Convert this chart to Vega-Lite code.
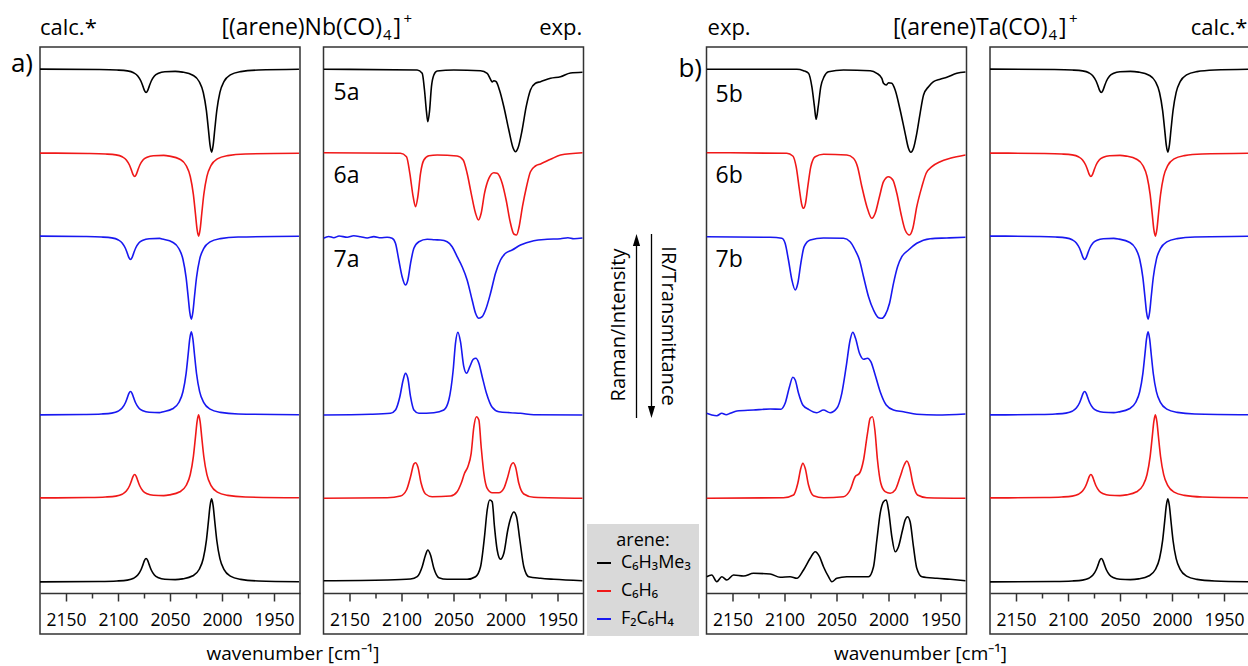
{
"$schema":"https://vega.github.io/schema/vega-lite/v6.json",
"autosize":{"type":"pad"},
"padding":{"left":10,"top":11,"right":0,"bottom":0},
"background":"white",
"spacing":23.5,
"bounds":"flush",
"config":{"view":{"stroke":"#333","strokeWidth":1.5},"font":"Open Sans"},
"resolve":{"scale":{"x":"independent","y":"independent","color":"shared"},"axis":{"x":"independent","y":"independent"}},
"datasets":{
"an":[
{"p":1,"k":"L","x":2175,"y":558.5,"txt":"calc.*"},
{"p":1,"k":"T","x":1846.2,"y":558.5,"txt":"[(arene)Nb(CO)"},
{"p":1,"k":"S","x":1845.2,"y":553,"txt":"4"},
{"p":1,"k":"Q","x":1835.1,"y":558.5,"txt":"]"},
{"p":1,"k":"U","x":1825.5,"y":569,"txt":"+"},
{"p":1,"k":"A","x":2203,"y":521,"txt":"a)"},
{"p":1,"k":"W","x":1931.7,"y":-67,"txt":"wavenumber [cm⁻¹]"},
{"p":2,"k":"R","x":1926.2,"y":558.5,"txt":"exp."},
{"p":2,"k":"N","x":2165.4,"y":493,"txt":"5a"},
{"p":2,"k":"N","x":2165.4,"y":410,"txt":"6a"},
{"p":2,"k":"N","x":2165.4,"y":326,"txt":"7a"},
{"p":3,"k":"L","x":2174,"y":558.5,"txt":"exp."},
{"p":3,"k":"A","x":2202,"y":516,"txt":"b)"},
{"p":3,"k":"W","x":1969.2,"y":-67,"txt":"wavenumber [cm⁻¹]"},
{"p":3,"k":"N","x":2166.3,"y":491.3,"txt":"5b"},
{"p":3,"k":"N","x":2166.3,"y":409.7,"txt":"6b"},
{"p":3,"k":"N","x":2166.3,"y":326.3,"txt":"7b"},
{"p":4,"k":"T","x":2119.7,"y":558.5,"txt":"[(arene)Ta(CO)"},
{"p":4,"k":"S","x":2118.75,"y":553,"txt":"4"},
{"p":4,"k":"Q","x":2108.65,"y":558.5,"txt":"]"},
{"p":4,"k":"U","x":2099,"y":569,"txt":"+"},
{"p":4,"k":"R","x":1927.4,"y":558.5,"txt":"calc.*"}
],
"md":[
{"k":"ar","x":29.5,"y":175,"y2":353},
{"k":"ar","x":44.5,"y":181,"y2":359},
{"k":"hu","x":29.5,"y":353},
{"k":"hd","x":44.5,"y":181},
{"k":"tr","x":11.5,"y":268,"txt":"Raman/Intensity"},
{"k":"ti","x":60.5,"y":267,"txt":"IR/Transmittance"}
],
"sp":[
{"p":1,"a":"K","t":"IR","x":2175,"y":523.9},{"p":1,"a":"K","t":"IR","x":2118,"y":523.5},{"p":1,"a":"K","t":"IR","x":2101,"y":523},{"p":1,"a":"K","t":"IR","x":2091,"y":522.1},{"p":1,"a":"K","t":"IR","x":2085,"y":520.2},{"p":1,"a":"K","t":"IR","x":2081,"y":517.1},{"p":1,"a":"K","t":"IR","x":2078,"y":512},{"p":1,"a":"K","t":"IR","x":2076,"y":506.6},{"p":1,"a":"K","t":"IR","x":2074.5,"y":502.4},{"p":1,"a":"K","t":"IR","x":2073,"y":500.5},{"p":1,"a":"K","t":"IR","x":2071.5,"y":502.3},{"p":1,"a":"K","t":"IR","x":2070,"y":506.6},{"p":1,"a":"K","t":"IR","x":2068,"y":512},{"p":1,"a":"K","t":"IR","x":2065,"y":517},{"p":1,"a":"K","t":"IR","x":2061,"y":519.8},{"p":1,"a":"K","t":"IR","x":2055,"y":521.3},{"p":1,"a":"K","t":"IR","x":2045,"y":521.6},{"p":1,"a":"K","t":"IR","x":2038,"y":520.9},{"p":1,"a":"K","t":"IR","x":2028,"y":517.8},{"p":1,"a":"K","t":"IR","x":2022,"y":511.5},{"p":1,"a":"K","t":"IR","x":2018,"y":500.5},{"p":1,"a":"K","t":"IR","x":2015,"y":482.4},{"p":1,"a":"K","t":"IR","x":2013,"y":462.9},{"p":1,"a":"K","t":"IR","x":2011.5,"y":447.8},{"p":1,"a":"K","t":"IR","x":2010,"y":440.9},{"p":1,"a":"K","t":"IR","x":2008.5,"y":447.9},{"p":1,"a":"K","t":"IR","x":2007,"y":463},{"p":1,"a":"K","t":"IR","x":2005,"y":482.5},{"p":1,"a":"K","t":"IR","x":2002,"y":500.7},{"p":1,"a":"K","t":"IR","x":1998,"y":511.7},{"p":1,"a":"K","t":"IR","x":1992,"y":518.1},{"p":1,"a":"K","t":"IR","x":1982,"y":521.4},{"p":1,"a":"K","t":"IR","x":1965,"y":523},{"p":1,"a":"K","t":"IR","x":1926,"y":523.7},
{"p":1,"a":"K","t":"Ra","x":2175,"y":11.1},{"p":1,"a":"K","t":"Ra","x":2118,"y":11.5},{"p":1,"a":"K","t":"Ra","x":2101,"y":12},{"p":1,"a":"K","t":"Ra","x":2091,"y":12.9},{"p":1,"a":"K","t":"Ra","x":2085,"y":14.8},{"p":1,"a":"K","t":"Ra","x":2081,"y":17.9},{"p":1,"a":"K","t":"Ra","x":2078,"y":23},{"p":1,"a":"K","t":"Ra","x":2076,"y":28.4},{"p":1,"a":"K","t":"Ra","x":2074.5,"y":32.6},{"p":1,"a":"K","t":"Ra","x":2073,"y":34.5},{"p":1,"a":"K","t":"Ra","x":2071.5,"y":32.7},{"p":1,"a":"K","t":"Ra","x":2070,"y":28.4},{"p":1,"a":"K","t":"Ra","x":2068,"y":23},{"p":1,"a":"K","t":"Ra","x":2065,"y":18},{"p":1,"a":"K","t":"Ra","x":2061,"y":15.2},{"p":1,"a":"K","t":"Ra","x":2055,"y":13.7},{"p":1,"a":"K","t":"Ra","x":2045,"y":13.4},{"p":1,"a":"K","t":"Ra","x":2038,"y":14.1},{"p":1,"a":"K","t":"Ra","x":2028,"y":17.2},{"p":1,"a":"K","t":"Ra","x":2022,"y":23.5},{"p":1,"a":"K","t":"Ra","x":2018,"y":34.5},{"p":1,"a":"K","t":"Ra","x":2015,"y":52.6},{"p":1,"a":"K","t":"Ra","x":2013,"y":72.1},{"p":1,"a":"K","t":"Ra","x":2011.5,"y":87.2},{"p":1,"a":"K","t":"Ra","x":2010,"y":94.1},{"p":1,"a":"K","t":"Ra","x":2008.5,"y":87.1},{"p":1,"a":"K","t":"Ra","x":2007,"y":72},{"p":1,"a":"K","t":"Ra","x":2005,"y":52.5},{"p":1,"a":"K","t":"Ra","x":2002,"y":34.3},{"p":1,"a":"K","t":"Ra","x":1998,"y":23.3},{"p":1,"a":"K","t":"Ra","x":1992,"y":16.9},{"p":1,"a":"K","t":"Ra","x":1982,"y":13.6},{"p":1,"a":"K","t":"Ra","x":1965,"y":12},{"p":1,"a":"K","t":"Ra","x":1926,"y":11.3},
{"p":1,"a":"R","t":"IR","x":2175,"y":439.9},{"p":1,"a":"R","t":"IR","x":2129,"y":439.5},{"p":1,"a":"R","t":"IR","x":2112,"y":439},{"p":1,"a":"R","t":"IR","x":2102,"y":438.1},{"p":1,"a":"R","t":"IR","x":2096,"y":436.2},{"p":1,"a":"R","t":"IR","x":2092,"y":433.1},{"p":1,"a":"R","t":"IR","x":2089,"y":428},{"p":1,"a":"R","t":"IR","x":2087,"y":422.6},{"p":1,"a":"R","t":"IR","x":2085.5,"y":418.4},{"p":1,"a":"R","t":"IR","x":2084,"y":416.5},{"p":1,"a":"R","t":"IR","x":2082.5,"y":418.3},{"p":1,"a":"R","t":"IR","x":2081,"y":422.6},{"p":1,"a":"R","t":"IR","x":2079,"y":428},{"p":1,"a":"R","t":"IR","x":2076,"y":433},{"p":1,"a":"R","t":"IR","x":2072,"y":435.8},{"p":1,"a":"R","t":"IR","x":2066,"y":437.3},{"p":1,"a":"R","t":"IR","x":2056,"y":437.6},{"p":1,"a":"R","t":"IR","x":2050.5,"y":436.9},{"p":1,"a":"R","t":"IR","x":2040.5,"y":433.8},{"p":1,"a":"R","t":"IR","x":2034.5,"y":427.5},{"p":1,"a":"R","t":"IR","x":2030.5,"y":416.5},{"p":1,"a":"R","t":"IR","x":2027.5,"y":398.4},{"p":1,"a":"R","t":"IR","x":2025.5,"y":378.9},{"p":1,"a":"R","t":"IR","x":2024,"y":363.8},{"p":1,"a":"R","t":"IR","x":2022.5,"y":356.9},{"p":1,"a":"R","t":"IR","x":2021,"y":363.9},{"p":1,"a":"R","t":"IR","x":2019.5,"y":379},{"p":1,"a":"R","t":"IR","x":2017.5,"y":398.5},{"p":1,"a":"R","t":"IR","x":2014.5,"y":416.7},{"p":1,"a":"R","t":"IR","x":2010.5,"y":427.7},{"p":1,"a":"R","t":"IR","x":2004.5,"y":434.1},{"p":1,"a":"R","t":"IR","x":1994.5,"y":437.4},{"p":1,"a":"R","t":"IR","x":1977.5,"y":439},{"p":1,"a":"R","t":"IR","x":1926,"y":439.7},
{"p":1,"a":"R","t":"Ra","x":2175,"y":95.1},{"p":1,"a":"R","t":"Ra","x":2129,"y":95.5},{"p":1,"a":"R","t":"Ra","x":2112,"y":96},{"p":1,"a":"R","t":"Ra","x":2102,"y":96.9},{"p":1,"a":"R","t":"Ra","x":2096,"y":98.8},{"p":1,"a":"R","t":"Ra","x":2092,"y":101.9},{"p":1,"a":"R","t":"Ra","x":2089,"y":107},{"p":1,"a":"R","t":"Ra","x":2087,"y":112.4},{"p":1,"a":"R","t":"Ra","x":2085.5,"y":116.6},{"p":1,"a":"R","t":"Ra","x":2084,"y":118.5},{"p":1,"a":"R","t":"Ra","x":2082.5,"y":116.7},{"p":1,"a":"R","t":"Ra","x":2081,"y":112.4},{"p":1,"a":"R","t":"Ra","x":2079,"y":107},{"p":1,"a":"R","t":"Ra","x":2076,"y":102},{"p":1,"a":"R","t":"Ra","x":2072,"y":99.2},{"p":1,"a":"R","t":"Ra","x":2066,"y":97.7},{"p":1,"a":"R","t":"Ra","x":2056,"y":97.4},{"p":1,"a":"R","t":"Ra","x":2050.5,"y":98.1},{"p":1,"a":"R","t":"Ra","x":2040.5,"y":101.2},{"p":1,"a":"R","t":"Ra","x":2034.5,"y":107.5},{"p":1,"a":"R","t":"Ra","x":2030.5,"y":118.5},{"p":1,"a":"R","t":"Ra","x":2027.5,"y":136.6},{"p":1,"a":"R","t":"Ra","x":2025.5,"y":156.1},{"p":1,"a":"R","t":"Ra","x":2024,"y":171.2},{"p":1,"a":"R","t":"Ra","x":2022.5,"y":178.1},{"p":1,"a":"R","t":"Ra","x":2021,"y":171.1},{"p":1,"a":"R","t":"Ra","x":2019.5,"y":156},{"p":1,"a":"R","t":"Ra","x":2017.5,"y":136.5},{"p":1,"a":"R","t":"Ra","x":2014.5,"y":118.3},{"p":1,"a":"R","t":"Ra","x":2010.5,"y":107.3},{"p":1,"a":"R","t":"Ra","x":2004.5,"y":100.9},{"p":1,"a":"R","t":"Ra","x":1994.5,"y":97.6},{"p":1,"a":"R","t":"Ra","x":1977.5,"y":96},{"p":1,"a":"R","t":"Ra","x":1926,"y":95.3},
{"p":1,"a":"B","t":"IR","x":2175,"y":356.9},{"p":1,"a":"B","t":"IR","x":2133,"y":356.5},{"p":1,"a":"B","t":"IR","x":2116,"y":356},{"p":1,"a":"B","t":"IR","x":2106,"y":355.1},{"p":1,"a":"B","t":"IR","x":2100,"y":353.2},{"p":1,"a":"B","t":"IR","x":2096,"y":350.1},{"p":1,"a":"B","t":"IR","x":2093,"y":345},{"p":1,"a":"B","t":"IR","x":2091,"y":339.6},{"p":1,"a":"B","t":"IR","x":2089.5,"y":335.4},{"p":1,"a":"B","t":"IR","x":2088,"y":333.5},{"p":1,"a":"B","t":"IR","x":2086.5,"y":335.3},{"p":1,"a":"B","t":"IR","x":2085,"y":339.6},{"p":1,"a":"B","t":"IR","x":2083,"y":345},{"p":1,"a":"B","t":"IR","x":2080,"y":350},{"p":1,"a":"B","t":"IR","x":2076,"y":352.8},{"p":1,"a":"B","t":"IR","x":2070,"y":354.3},{"p":1,"a":"B","t":"IR","x":2060,"y":354.6},{"p":1,"a":"B","t":"IR","x":2057.5,"y":353.9},{"p":1,"a":"B","t":"IR","x":2047.5,"y":350.8},{"p":1,"a":"B","t":"IR","x":2041.5,"y":344.5},{"p":1,"a":"B","t":"IR","x":2037.5,"y":333.5},{"p":1,"a":"B","t":"IR","x":2034.5,"y":315.4},{"p":1,"a":"B","t":"IR","x":2032.5,"y":295.9},{"p":1,"a":"B","t":"IR","x":2031,"y":280.8},{"p":1,"a":"B","t":"IR","x":2029.5,"y":273.9},{"p":1,"a":"B","t":"IR","x":2028,"y":280.9},{"p":1,"a":"B","t":"IR","x":2026.5,"y":296},{"p":1,"a":"B","t":"IR","x":2024.5,"y":315.5},{"p":1,"a":"B","t":"IR","x":2021.5,"y":333.7},{"p":1,"a":"B","t":"IR","x":2017.5,"y":344.7},{"p":1,"a":"B","t":"IR","x":2011.5,"y":351.1},{"p":1,"a":"B","t":"IR","x":2001.5,"y":354.4},{"p":1,"a":"B","t":"IR","x":1984.5,"y":356},{"p":1,"a":"B","t":"IR","x":1926,"y":356.7},
{"p":1,"a":"B","t":"Ra","x":2175,"y":178.1},{"p":1,"a":"B","t":"Ra","x":2133,"y":178.5},{"p":1,"a":"B","t":"Ra","x":2116,"y":179},{"p":1,"a":"B","t":"Ra","x":2106,"y":179.9},{"p":1,"a":"B","t":"Ra","x":2100,"y":181.8},{"p":1,"a":"B","t":"Ra","x":2096,"y":184.9},{"p":1,"a":"B","t":"Ra","x":2093,"y":190},{"p":1,"a":"B","t":"Ra","x":2091,"y":195.4},{"p":1,"a":"B","t":"Ra","x":2089.5,"y":199.6},{"p":1,"a":"B","t":"Ra","x":2088,"y":201.5},{"p":1,"a":"B","t":"Ra","x":2086.5,"y":199.7},{"p":1,"a":"B","t":"Ra","x":2085,"y":195.4},{"p":1,"a":"B","t":"Ra","x":2083,"y":190},{"p":1,"a":"B","t":"Ra","x":2080,"y":185},{"p":1,"a":"B","t":"Ra","x":2076,"y":182.2},{"p":1,"a":"B","t":"Ra","x":2070,"y":180.7},{"p":1,"a":"B","t":"Ra","x":2060,"y":180.4},{"p":1,"a":"B","t":"Ra","x":2057.5,"y":181.1},{"p":1,"a":"B","t":"Ra","x":2047.5,"y":184.2},{"p":1,"a":"B","t":"Ra","x":2041.5,"y":190.5},{"p":1,"a":"B","t":"Ra","x":2037.5,"y":201.5},{"p":1,"a":"B","t":"Ra","x":2034.5,"y":219.6},{"p":1,"a":"B","t":"Ra","x":2032.5,"y":239.1},{"p":1,"a":"B","t":"Ra","x":2031,"y":254.2},{"p":1,"a":"B","t":"Ra","x":2029.5,"y":261.1},{"p":1,"a":"B","t":"Ra","x":2028,"y":254.1},{"p":1,"a":"B","t":"Ra","x":2026.5,"y":239},{"p":1,"a":"B","t":"Ra","x":2024.5,"y":219.5},{"p":1,"a":"B","t":"Ra","x":2021.5,"y":201.3},{"p":1,"a":"B","t":"Ra","x":2017.5,"y":190.3},{"p":1,"a":"B","t":"Ra","x":2011.5,"y":183.9},{"p":1,"a":"B","t":"Ra","x":2001.5,"y":180.6},{"p":1,"a":"B","t":"Ra","x":1984.5,"y":179},{"p":1,"a":"B","t":"Ra","x":1926,"y":178.3},
{"p":4,"a":"K","t":"IR","x":2175,"y":523.9},{"p":4,"a":"K","t":"IR","x":2113,"y":523.5},{"p":4,"a":"K","t":"IR","x":2096,"y":523},{"p":4,"a":"K","t":"IR","x":2086,"y":522.1},{"p":4,"a":"K","t":"IR","x":2080,"y":520.2},{"p":4,"a":"K","t":"IR","x":2076,"y":517.1},{"p":4,"a":"K","t":"IR","x":2073,"y":512},{"p":4,"a":"K","t":"IR","x":2071,"y":506.6},{"p":4,"a":"K","t":"IR","x":2069.5,"y":502.4},{"p":4,"a":"K","t":"IR","x":2068,"y":500.5},{"p":4,"a":"K","t":"IR","x":2066.5,"y":502.3},{"p":4,"a":"K","t":"IR","x":2065,"y":506.6},{"p":4,"a":"K","t":"IR","x":2063,"y":512},{"p":4,"a":"K","t":"IR","x":2060,"y":517},{"p":4,"a":"K","t":"IR","x":2056,"y":519.8},{"p":4,"a":"K","t":"IR","x":2050,"y":521.3},{"p":4,"a":"K","t":"IR","x":2040,"y":521.6},{"p":4,"a":"K","t":"IR","x":2032,"y":520.9},{"p":4,"a":"K","t":"IR","x":2022,"y":517.8},{"p":4,"a":"K","t":"IR","x":2016,"y":511.5},{"p":4,"a":"K","t":"IR","x":2012,"y":500.5},{"p":4,"a":"K","t":"IR","x":2009,"y":482.4},{"p":4,"a":"K","t":"IR","x":2007,"y":462.9},{"p":4,"a":"K","t":"IR","x":2005.5,"y":447.8},{"p":4,"a":"K","t":"IR","x":2004,"y":440.9},{"p":4,"a":"K","t":"IR","x":2002.5,"y":447.9},{"p":4,"a":"K","t":"IR","x":2001,"y":463},{"p":4,"a":"K","t":"IR","x":1999,"y":482.5},{"p":4,"a":"K","t":"IR","x":1996,"y":500.7},{"p":4,"a":"K","t":"IR","x":1992,"y":511.7},{"p":4,"a":"K","t":"IR","x":1986,"y":518.1},{"p":4,"a":"K","t":"IR","x":1976,"y":521.4},{"p":4,"a":"K","t":"IR","x":1959,"y":523},{"p":4,"a":"K","t":"IR","x":1926,"y":523.7},
{"p":4,"a":"K","t":"Ra","x":2175,"y":11.1},{"p":4,"a":"K","t":"Ra","x":2113,"y":11.5},{"p":4,"a":"K","t":"Ra","x":2096,"y":12},{"p":4,"a":"K","t":"Ra","x":2086,"y":12.9},{"p":4,"a":"K","t":"Ra","x":2080,"y":14.8},{"p":4,"a":"K","t":"Ra","x":2076,"y":17.9},{"p":4,"a":"K","t":"Ra","x":2073,"y":23},{"p":4,"a":"K","t":"Ra","x":2071,"y":28.4},{"p":4,"a":"K","t":"Ra","x":2069.5,"y":32.6},{"p":4,"a":"K","t":"Ra","x":2068,"y":34.5},{"p":4,"a":"K","t":"Ra","x":2066.5,"y":32.7},{"p":4,"a":"K","t":"Ra","x":2065,"y":28.4},{"p":4,"a":"K","t":"Ra","x":2063,"y":23},{"p":4,"a":"K","t":"Ra","x":2060,"y":18},{"p":4,"a":"K","t":"Ra","x":2056,"y":15.2},{"p":4,"a":"K","t":"Ra","x":2050,"y":13.7},{"p":4,"a":"K","t":"Ra","x":2040,"y":13.4},{"p":4,"a":"K","t":"Ra","x":2032,"y":14.1},{"p":4,"a":"K","t":"Ra","x":2022,"y":17.2},{"p":4,"a":"K","t":"Ra","x":2016,"y":23.5},{"p":4,"a":"K","t":"Ra","x":2012,"y":34.5},{"p":4,"a":"K","t":"Ra","x":2009,"y":52.6},{"p":4,"a":"K","t":"Ra","x":2007,"y":72.1},{"p":4,"a":"K","t":"Ra","x":2005.5,"y":87.2},{"p":4,"a":"K","t":"Ra","x":2004,"y":94.1},{"p":4,"a":"K","t":"Ra","x":2002.5,"y":87.1},{"p":4,"a":"K","t":"Ra","x":2001,"y":72},{"p":4,"a":"K","t":"Ra","x":1999,"y":52.5},{"p":4,"a":"K","t":"Ra","x":1996,"y":34.3},{"p":4,"a":"K","t":"Ra","x":1992,"y":23.3},{"p":4,"a":"K","t":"Ra","x":1986,"y":16.9},{"p":4,"a":"K","t":"Ra","x":1976,"y":13.6},{"p":4,"a":"K","t":"Ra","x":1959,"y":12},{"p":4,"a":"K","t":"Ra","x":1926,"y":11.3},
{"p":4,"a":"R","t":"IR","x":2175,"y":439.9},{"p":4,"a":"R","t":"IR","x":2123,"y":439.5},{"p":4,"a":"R","t":"IR","x":2106,"y":439},{"p":4,"a":"R","t":"IR","x":2096,"y":438.1},{"p":4,"a":"R","t":"IR","x":2090,"y":436.2},{"p":4,"a":"R","t":"IR","x":2086,"y":433.1},{"p":4,"a":"R","t":"IR","x":2083,"y":428},{"p":4,"a":"R","t":"IR","x":2081,"y":422.6},{"p":4,"a":"R","t":"IR","x":2079.5,"y":418.4},{"p":4,"a":"R","t":"IR","x":2078,"y":416.5},{"p":4,"a":"R","t":"IR","x":2076.5,"y":418.3},{"p":4,"a":"R","t":"IR","x":2075,"y":422.6},{"p":4,"a":"R","t":"IR","x":2073,"y":428},{"p":4,"a":"R","t":"IR","x":2070,"y":433},{"p":4,"a":"R","t":"IR","x":2066,"y":435.8},{"p":4,"a":"R","t":"IR","x":2060,"y":437.3},{"p":4,"a":"R","t":"IR","x":2050,"y":437.6},{"p":4,"a":"R","t":"IR","x":2044,"y":436.9},{"p":4,"a":"R","t":"IR","x":2034,"y":433.8},{"p":4,"a":"R","t":"IR","x":2028,"y":427.5},{"p":4,"a":"R","t":"IR","x":2024,"y":416.5},{"p":4,"a":"R","t":"IR","x":2021,"y":398.4},{"p":4,"a":"R","t":"IR","x":2019,"y":378.9},{"p":4,"a":"R","t":"IR","x":2017.5,"y":363.8},{"p":4,"a":"R","t":"IR","x":2016,"y":356.9},{"p":4,"a":"R","t":"IR","x":2014.5,"y":363.9},{"p":4,"a":"R","t":"IR","x":2013,"y":379},{"p":4,"a":"R","t":"IR","x":2011,"y":398.5},{"p":4,"a":"R","t":"IR","x":2008,"y":416.7},{"p":4,"a":"R","t":"IR","x":2004,"y":427.7},{"p":4,"a":"R","t":"IR","x":1998,"y":434.1},{"p":4,"a":"R","t":"IR","x":1988,"y":437.4},{"p":4,"a":"R","t":"IR","x":1971,"y":439},{"p":4,"a":"R","t":"IR","x":1926,"y":439.7},
{"p":4,"a":"R","t":"Ra","x":2175,"y":95.1},{"p":4,"a":"R","t":"Ra","x":2123,"y":95.5},{"p":4,"a":"R","t":"Ra","x":2106,"y":96},{"p":4,"a":"R","t":"Ra","x":2096,"y":96.9},{"p":4,"a":"R","t":"Ra","x":2090,"y":98.8},{"p":4,"a":"R","t":"Ra","x":2086,"y":101.9},{"p":4,"a":"R","t":"Ra","x":2083,"y":107},{"p":4,"a":"R","t":"Ra","x":2081,"y":112.4},{"p":4,"a":"R","t":"Ra","x":2079.5,"y":116.6},{"p":4,"a":"R","t":"Ra","x":2078,"y":118.5},{"p":4,"a":"R","t":"Ra","x":2076.5,"y":116.7},{"p":4,"a":"R","t":"Ra","x":2075,"y":112.4},{"p":4,"a":"R","t":"Ra","x":2073,"y":107},{"p":4,"a":"R","t":"Ra","x":2070,"y":102},{"p":4,"a":"R","t":"Ra","x":2066,"y":99.2},{"p":4,"a":"R","t":"Ra","x":2060,"y":97.7},{"p":4,"a":"R","t":"Ra","x":2050,"y":97.4},{"p":4,"a":"R","t":"Ra","x":2044,"y":98.1},{"p":4,"a":"R","t":"Ra","x":2034,"y":101.2},{"p":4,"a":"R","t":"Ra","x":2028,"y":107.5},{"p":4,"a":"R","t":"Ra","x":2024,"y":118.5},{"p":4,"a":"R","t":"Ra","x":2021,"y":136.6},{"p":4,"a":"R","t":"Ra","x":2019,"y":156.1},{"p":4,"a":"R","t":"Ra","x":2017.5,"y":171.2},{"p":4,"a":"R","t":"Ra","x":2016,"y":178.1},{"p":4,"a":"R","t":"Ra","x":2014.5,"y":171.1},{"p":4,"a":"R","t":"Ra","x":2013,"y":156},{"p":4,"a":"R","t":"Ra","x":2011,"y":136.5},{"p":4,"a":"R","t":"Ra","x":2008,"y":118.3},{"p":4,"a":"R","t":"Ra","x":2004,"y":107.3},{"p":4,"a":"R","t":"Ra","x":1998,"y":100.9},{"p":4,"a":"R","t":"Ra","x":1988,"y":97.6},{"p":4,"a":"R","t":"Ra","x":1971,"y":96},{"p":4,"a":"R","t":"Ra","x":1926,"y":95.3},
{"p":4,"a":"B","t":"IR","x":2175,"y":356.9},{"p":4,"a":"B","t":"IR","x":2129,"y":356.5},{"p":4,"a":"B","t":"IR","x":2112,"y":356},{"p":4,"a":"B","t":"IR","x":2102,"y":355.1},{"p":4,"a":"B","t":"IR","x":2096,"y":353.2},{"p":4,"a":"B","t":"IR","x":2092,"y":350.1},{"p":4,"a":"B","t":"IR","x":2089,"y":345},{"p":4,"a":"B","t":"IR","x":2087,"y":339.6},{"p":4,"a":"B","t":"IR","x":2085.5,"y":335.4},{"p":4,"a":"B","t":"IR","x":2084,"y":333.5},{"p":4,"a":"B","t":"IR","x":2082.5,"y":335.3},{"p":4,"a":"B","t":"IR","x":2081,"y":339.6},{"p":4,"a":"B","t":"IR","x":2079,"y":345},{"p":4,"a":"B","t":"IR","x":2076,"y":350},{"p":4,"a":"B","t":"IR","x":2072,"y":352.8},{"p":4,"a":"B","t":"IR","x":2066,"y":354.3},{"p":4,"a":"B","t":"IR","x":2056,"y":354.6},{"p":4,"a":"B","t":"IR","x":2051,"y":353.9},{"p":4,"a":"B","t":"IR","x":2041,"y":350.8},{"p":4,"a":"B","t":"IR","x":2035,"y":344.5},{"p":4,"a":"B","t":"IR","x":2031,"y":333.5},{"p":4,"a":"B","t":"IR","x":2028,"y":315.4},{"p":4,"a":"B","t":"IR","x":2026,"y":295.9},{"p":4,"a":"B","t":"IR","x":2024.5,"y":280.8},{"p":4,"a":"B","t":"IR","x":2023,"y":273.9},{"p":4,"a":"B","t":"IR","x":2021.5,"y":280.9},{"p":4,"a":"B","t":"IR","x":2020,"y":296},{"p":4,"a":"B","t":"IR","x":2018,"y":315.5},{"p":4,"a":"B","t":"IR","x":2015,"y":333.7},{"p":4,"a":"B","t":"IR","x":2011,"y":344.7},{"p":4,"a":"B","t":"IR","x":2005,"y":351.1},{"p":4,"a":"B","t":"IR","x":1995,"y":354.4},{"p":4,"a":"B","t":"IR","x":1978,"y":356},{"p":4,"a":"B","t":"IR","x":1926,"y":356.7},
{"p":4,"a":"B","t":"Ra","x":2175,"y":178.1},{"p":4,"a":"B","t":"Ra","x":2129,"y":178.5},{"p":4,"a":"B","t":"Ra","x":2112,"y":179},{"p":4,"a":"B","t":"Ra","x":2102,"y":179.9},{"p":4,"a":"B","t":"Ra","x":2096,"y":181.8},{"p":4,"a":"B","t":"Ra","x":2092,"y":184.9},{"p":4,"a":"B","t":"Ra","x":2089,"y":190},{"p":4,"a":"B","t":"Ra","x":2087,"y":195.4},{"p":4,"a":"B","t":"Ra","x":2085.5,"y":199.6},{"p":4,"a":"B","t":"Ra","x":2084,"y":201.5},{"p":4,"a":"B","t":"Ra","x":2082.5,"y":199.7},{"p":4,"a":"B","t":"Ra","x":2081,"y":195.4},{"p":4,"a":"B","t":"Ra","x":2079,"y":190},{"p":4,"a":"B","t":"Ra","x":2076,"y":185},{"p":4,"a":"B","t":"Ra","x":2072,"y":182.2},{"p":4,"a":"B","t":"Ra","x":2066,"y":180.7},{"p":4,"a":"B","t":"Ra","x":2056,"y":180.4},{"p":4,"a":"B","t":"Ra","x":2051,"y":181.1},{"p":4,"a":"B","t":"Ra","x":2041,"y":184.2},{"p":4,"a":"B","t":"Ra","x":2035,"y":190.5},{"p":4,"a":"B","t":"Ra","x":2031,"y":201.5},{"p":4,"a":"B","t":"Ra","x":2028,"y":219.6},{"p":4,"a":"B","t":"Ra","x":2026,"y":239.1},{"p":4,"a":"B","t":"Ra","x":2024.5,"y":254.2},{"p":4,"a":"B","t":"Ra","x":2023,"y":261.1},{"p":4,"a":"B","t":"Ra","x":2021.5,"y":254.1},{"p":4,"a":"B","t":"Ra","x":2020,"y":239},{"p":4,"a":"B","t":"Ra","x":2018,"y":219.5},{"p":4,"a":"B","t":"Ra","x":2015,"y":201.3},{"p":4,"a":"B","t":"Ra","x":2011,"y":190.3},{"p":4,"a":"B","t":"Ra","x":2005,"y":183.9},{"p":4,"a":"B","t":"Ra","x":1995,"y":180.6},{"p":4,"a":"B","t":"Ra","x":1978,"y":179},{"p":4,"a":"B","t":"Ra","x":1926,"y":178.3},
{"p":2,"a":"K","t":"IR","x":2175,"y":523.7},{"p":2,"a":"K","t":"IR","x":2084.9,"y":523},{"p":2,"a":"K","t":"IR","x":2080.1,"y":519.7},{"p":2,"a":"K","t":"IR","x":2077.9,"y":503},{"p":2,"a":"K","t":"IR","x":2076,"y":481.3},{"p":2,"a":"K","t":"IR","x":2074.7,"y":471.3},{"p":2,"a":"K","t":"IR","x":2073.1,"y":481.3},{"p":2,"a":"K","t":"IR","x":2071.2,"y":506.3},{"p":2,"a":"K","t":"IR","x":2068.9,"y":518},{"p":2,"a":"K","t":"IR","x":2065.7,"y":522},{"p":2,"a":"K","t":"IR","x":2049.7,"y":523},{"p":2,"a":"K","t":"IR","x":2024,"y":522.3},{"p":2,"a":"K","t":"IR","x":2017.6,"y":519.7},{"p":2,"a":"K","t":"IR","x":2014.4,"y":513.7},{"p":2,"a":"K","t":"IR","x":2012.8,"y":511},{"p":2,"a":"K","t":"IR","x":2011.2,"y":512.3},{"p":2,"a":"K","t":"IR","x":2009,"y":511.3},{"p":2,"a":"K","t":"IR","x":2005.8,"y":503},{"p":2,"a":"K","t":"IR","x":2001.6,"y":486.3},{"p":2,"a":"K","t":"IR","x":1996.8,"y":463},{"p":2,"a":"K","t":"IR","x":1992.6,"y":444.7},{"p":2,"a":"K","t":"IR","x":1990.4,"y":441.3},{"p":2,"a":"K","t":"IR","x":1988.1,"y":444.7},{"p":2,"a":"K","t":"IR","x":1984,"y":463},{"p":2,"a":"K","t":"IR","x":1980.1,"y":486.3},{"p":2,"a":"K","t":"IR","x":1976,"y":503},{"p":2,"a":"K","t":"IR","x":1971.2,"y":509.7},{"p":2,"a":"K","t":"IR","x":1966.3,"y":511.3},{"p":2,"a":"K","t":"IR","x":1956.7,"y":514.7},{"p":2,"a":"K","t":"IR","x":1947.1,"y":516.3},{"p":2,"a":"K","t":"IR","x":1937.5,"y":520},{"p":2,"a":"K","t":"IR","x":1926,"y":520.7},
{"p":2,"a":"R","t":"IR","x":2175,"y":440.3},{"p":2,"a":"R","t":"IR","x":2101,"y":439.7},{"p":2,"a":"R","t":"IR","x":2095.2,"y":436.3},{"p":2,"a":"R","t":"IR","x":2092,"y":419.7},{"p":2,"a":"R","t":"IR","x":2088.8,"y":396.3},{"p":2,"a":"R","t":"IR","x":2086.5,"y":386.3},{"p":2,"a":"R","t":"IR","x":2084.3,"y":396.3},{"p":2,"a":"R","t":"IR","x":2081.7,"y":419.7},{"p":2,"a":"R","t":"IR","x":2078.5,"y":433},{"p":2,"a":"R","t":"IR","x":2073.7,"y":437.3},{"p":2,"a":"R","t":"IR","x":2065.7,"y":438},{"p":2,"a":"R","t":"IR","x":2046.5,"y":437},{"p":2,"a":"R","t":"IR","x":2040.7,"y":433},{"p":2,"a":"R","t":"IR","x":2036.9,"y":419.7},{"p":2,"a":"R","t":"IR","x":2033,"y":399.7},{"p":2,"a":"R","t":"IR","x":2028.8,"y":379.7},{"p":2,"a":"R","t":"IR","x":2026,"y":373},{"p":2,"a":"R","t":"IR","x":2023.4,"y":379.7},{"p":2,"a":"R","t":"IR","x":2020.2,"y":399.7},{"p":2,"a":"R","t":"IR","x":2016,"y":414.7},{"p":2,"a":"R","t":"IR","x":2011.2,"y":420.3},{"p":2,"a":"R","t":"IR","x":2008,"y":419.7},{"p":2,"a":"R","t":"IR","x":2003.2,"y":409.7},{"p":2,"a":"R","t":"IR","x":1999.4,"y":393},{"p":2,"a":"R","t":"IR","x":1995.2,"y":369.7},{"p":2,"a":"R","t":"IR","x":1992,"y":359},{"p":2,"a":"R","t":"IR","x":1989.4,"y":358},{"p":2,"a":"R","t":"IR","x":1986.9,"y":366.3},{"p":2,"a":"R","t":"IR","x":1983.7,"y":386.3},{"p":2,"a":"R","t":"IR","x":1979.8,"y":406.3},{"p":2,"a":"R","t":"IR","x":1976,"y":421.3},{"p":2,"a":"R","t":"IR","x":1971.2,"y":427},{"p":2,"a":"R","t":"IR","x":1966.3,"y":429},{"p":2,"a":"R","t":"IR","x":1956.7,"y":433.7},{"p":2,"a":"R","t":"IR","x":1947.1,"y":438},{"p":2,"a":"R","t":"IR","x":1926,"y":440.3},
{"p":2,"a":"B","t":"IR","x":2175,"y":354.7},{"p":2,"a":"B","t":"IR","x":2170,"y":356.5},{"p":2,"a":"B","t":"IR","x":2165.1,"y":355.3},{"p":2,"a":"B","t":"IR","x":2160,"y":357},{"p":2,"a":"B","t":"IR","x":2152.2,"y":355.7},{"p":2,"a":"B","t":"IR","x":2146,"y":357.2},{"p":2,"a":"B","t":"IR","x":2139.4,"y":356.3},{"p":2,"a":"B","t":"IR","x":2133,"y":355},{"p":2,"a":"B","t":"IR","x":2126.6,"y":356.4},{"p":2,"a":"B","t":"IR","x":2120,"y":355.2},{"p":2,"a":"B","t":"IR","x":2113.8,"y":355.7},{"p":2,"a":"B","t":"IR","x":2109,"y":354.7},{"p":2,"a":"B","t":"IR","x":2105.8,"y":349.7},{"p":2,"a":"B","t":"IR","x":2102.6,"y":333},{"p":2,"a":"B","t":"IR","x":2099.4,"y":316.3},{"p":2,"a":"B","t":"IR","x":2096.2,"y":308},{"p":2,"a":"B","t":"IR","x":2093.9,"y":313},{"p":2,"a":"B","t":"IR","x":2091.3,"y":329.7},{"p":2,"a":"B","t":"IR","x":2088.1,"y":344.7},{"p":2,"a":"B","t":"IR","x":2083.3,"y":351.3},{"p":2,"a":"B","t":"IR","x":2075.3,"y":353.7},{"p":2,"a":"B","t":"IR","x":2068,"y":353.2},{"p":2,"a":"B","t":"IR","x":2062.5,"y":353},{"p":2,"a":"B","t":"IR","x":2056.1,"y":351.3},{"p":2,"a":"B","t":"IR","x":2051.3,"y":346.3},{"p":2,"a":"B","t":"IR","x":2046.5,"y":336.3},{"p":2,"a":"B","t":"IR","x":2041.7,"y":326.3},{"p":2,"a":"B","t":"IR","x":2036.9,"y":313},{"p":2,"a":"B","t":"IR","x":2032.1,"y":293},{"p":2,"a":"B","t":"IR","x":2028.8,"y":279.7},{"p":2,"a":"B","t":"IR","x":2025.6,"y":274.7},{"p":2,"a":"B","t":"IR","x":2022.4,"y":276.3},{"p":2,"a":"B","t":"IR","x":2019.2,"y":283},{"p":2,"a":"B","t":"IR","x":2014.4,"y":299.7},{"p":2,"a":"B","t":"IR","x":2009.6,"y":319.7},{"p":2,"a":"B","t":"IR","x":2004.8,"y":333},{"p":2,"a":"B","t":"IR","x":2000,"y":339.7},{"p":2,"a":"B","t":"IR","x":1993.6,"y":343},{"p":2,"a":"B","t":"IR","x":1985.6,"y":348},{"p":2,"a":"B","t":"IR","x":1972.8,"y":352.3},{"p":2,"a":"B","t":"IR","x":1959.9,"y":353.7},{"p":2,"a":"B","t":"IR","x":1947.1,"y":354.3},{"p":2,"a":"B","t":"IR","x":1940,"y":355.3},{"p":2,"a":"B","t":"IR","x":1934.3,"y":354.3},{"p":2,"a":"B","t":"IR","x":1926,"y":355},
{"p":2,"a":"B","t":"Ra","x":2175,"y":178},{"p":2,"a":"B","t":"Ra","x":2129.8,"y":178.7},{"p":2,"a":"B","t":"Ra","x":2110.6,"y":179.7},{"p":2,"a":"B","t":"Ra","x":2105.8,"y":183},{"p":2,"a":"B","t":"Ra","x":2101.6,"y":196.3},{"p":2,"a":"B","t":"Ra","x":2098.4,"y":213},{"p":2,"a":"B","t":"Ra","x":2096.2,"y":219.7},{"p":2,"a":"B","t":"Ra","x":2093.9,"y":214.7},{"p":2,"a":"B","t":"Ra","x":2091.3,"y":196.3},{"p":2,"a":"B","t":"Ra","x":2088.1,"y":183},{"p":2,"a":"B","t":"Ra","x":2083.3,"y":179.7},{"p":2,"a":"B","t":"Ra","x":2068.9,"y":180.3},{"p":2,"a":"B","t":"Ra","x":2059.3,"y":183},{"p":2,"a":"B","t":"Ra","x":2054.5,"y":193},{"p":2,"a":"B","t":"Ra","x":2050.3,"y":223},{"p":2,"a":"B","t":"Ra","x":2048.1,"y":249.7},{"p":2,"a":"B","t":"Ra","x":2045.8,"y":260.7},{"p":2,"a":"B","t":"Ra","x":2043.3,"y":251.3},{"p":2,"a":"B","t":"Ra","x":2040.1,"y":226.3},{"p":2,"a":"B","t":"Ra","x":2037.5,"y":219.7},{"p":2,"a":"B","t":"Ra","x":2034.3,"y":226.3},{"p":2,"a":"B","t":"Ra","x":2031.1,"y":233.7},{"p":2,"a":"B","t":"Ra","x":2028.5,"y":234.7},{"p":2,"a":"B","t":"Ra","x":2025.6,"y":229.7},{"p":2,"a":"B","t":"Ra","x":2022.4,"y":216.3},{"p":2,"a":"B","t":"Ra","x":2018.3,"y":199.7},{"p":2,"a":"B","t":"Ra","x":2012.8,"y":185.7},{"p":2,"a":"B","t":"Ra","x":2006.4,"y":181.3},{"p":2,"a":"B","t":"Ra","x":1995.2,"y":180.3},{"p":2,"a":"B","t":"Ra","x":1985.6,"y":179.7},{"p":2,"a":"B","t":"Ra","x":1972.8,"y":178.3},{"p":2,"a":"B","t":"Ra","x":1926,"y":178},
{"p":2,"a":"R","t":"Ra","x":2175,"y":94.7},{"p":2,"a":"R","t":"Ra","x":2113.8,"y":95.3},{"p":2,"a":"R","t":"Ra","x":2101,"y":97},{"p":2,"a":"R","t":"Ra","x":2095.2,"y":103},{"p":2,"a":"R","t":"Ra","x":2091.3,"y":116.3},{"p":2,"a":"R","t":"Ra","x":2088.1,"y":129},{"p":2,"a":"R","t":"Ra","x":2086.5,"y":130.3},{"p":2,"a":"R","t":"Ra","x":2084.3,"y":126.3},{"p":2,"a":"R","t":"Ra","x":2081.1,"y":109.7},{"p":2,"a":"R","t":"Ra","x":2076.9,"y":99},{"p":2,"a":"R","t":"Ra","x":2070.5,"y":96.3},{"p":2,"a":"R","t":"Ra","x":2052.9,"y":97},{"p":2,"a":"R","t":"Ra","x":2046.5,"y":101.3},{"p":2,"a":"R","t":"Ra","x":2042.6,"y":109.7},{"p":2,"a":"R","t":"Ra","x":2039.4,"y":119.7},{"p":2,"a":"R","t":"Ra","x":2036.2,"y":126.3},{"p":2,"a":"R","t":"Ra","x":2033,"y":139.7},{"p":2,"a":"R","t":"Ra","x":2030.4,"y":166.3},{"p":2,"a":"R","t":"Ra","x":2027.9,"y":176.3},{"p":2,"a":"R","t":"Ra","x":2025.6,"y":173},{"p":2,"a":"R","t":"Ra","x":2023.4,"y":146.3},{"p":2,"a":"R","t":"Ra","x":2020.8,"y":119.7},{"p":2,"a":"R","t":"Ra","x":2017.6,"y":104.7},{"p":2,"a":"R","t":"Ra","x":2012.8,"y":100.3},{"p":2,"a":"R","t":"Ra","x":2006.4,"y":100.3},{"p":2,"a":"R","t":"Ra","x":2001.6,"y":104.7},{"p":2,"a":"R","t":"Ra","x":1997.8,"y":116.3},{"p":2,"a":"R","t":"Ra","x":1994.6,"y":128},{"p":2,"a":"R","t":"Ra","x":1992.6,"y":130.3},{"p":2,"a":"R","t":"Ra","x":1990.4,"y":126.3},{"p":2,"a":"R","t":"Ra","x":1987.2,"y":109.7},{"p":2,"a":"R","t":"Ra","x":1982.4,"y":99},{"p":2,"a":"R","t":"Ra","x":1972.8,"y":95.7},{"p":2,"a":"R","t":"Ra","x":1926,"y":94.7},
{"p":2,"a":"K","t":"Ra","x":2175,"y":12.3},{"p":2,"a":"K","t":"Ra","x":2113.8,"y":13},{"p":2,"a":"K","t":"Ra","x":2091.3,"y":14},{"p":2,"a":"K","t":"Ra","x":2084.9,"y":16.3},{"p":2,"a":"K","t":"Ra","x":2080.1,"y":26.3},{"p":2,"a":"K","t":"Ra","x":2076.9,"y":38},{"p":2,"a":"K","t":"Ra","x":2074.7,"y":43},{"p":2,"a":"K","t":"Ra","x":2072.1,"y":38},{"p":2,"a":"K","t":"Ra","x":2068.9,"y":24.7},{"p":2,"a":"K","t":"Ra","x":2064.1,"y":15.3},{"p":2,"a":"K","t":"Ra","x":2056.1,"y":13.7},{"p":2,"a":"K","t":"Ra","x":2036.9,"y":13.7},{"p":2,"a":"K","t":"Ra","x":2028.8,"y":16.3},{"p":2,"a":"K","t":"Ra","x":2024,"y":26.3},{"p":2,"a":"K","t":"Ra","x":2020.2,"y":56.3},{"p":2,"a":"K","t":"Ra","x":2017.6,"y":83},{"p":2,"a":"K","t":"Ra","x":2015.1,"y":93},{"p":2,"a":"K","t":"Ra","x":2012.8,"y":91.3},{"p":2,"a":"K","t":"Ra","x":2010.6,"y":66.3},{"p":2,"a":"K","t":"Ra","x":2008,"y":43},{"p":2,"a":"K","t":"Ra","x":2004.8,"y":33.7},{"p":2,"a":"K","t":"Ra","x":2001.6,"y":39.7},{"p":2,"a":"K","t":"Ra","x":1997.8,"y":63},{"p":2,"a":"K","t":"Ra","x":1994.6,"y":76.3},{"p":2,"a":"K","t":"Ra","x":1992,"y":81},{"p":2,"a":"K","t":"Ra","x":1989.4,"y":76.3},{"p":2,"a":"K","t":"Ra","x":1986.2,"y":53},{"p":2,"a":"K","t":"Ra","x":1982.4,"y":26.3},{"p":2,"a":"K","t":"Ra","x":1977.6,"y":16.3},{"p":2,"a":"K","t":"Ra","x":1966.3,"y":14.7},{"p":2,"a":"K","t":"Ra","x":1953.5,"y":13.7},{"p":2,"a":"K","t":"Ra","x":1926,"y":12.3},
{"p":3,"a":"K","t":"IR","x":2175,"y":523.7},{"p":3,"a":"K","t":"IR","x":2088.1,"y":523.7},{"p":3,"a":"K","t":"IR","x":2081.7,"y":522.3},{"p":3,"a":"K","t":"IR","x":2076.9,"y":519.7},{"p":3,"a":"K","t":"IR","x":2073.7,"y":506.3},{"p":3,"a":"K","t":"IR","x":2071.2,"y":486.3},{"p":3,"a":"K","t":"IR","x":2069.6,"y":473.7},{"p":3,"a":"K","t":"IR","x":2067.6,"y":486.3},{"p":3,"a":"K","t":"IR","x":2065.1,"y":506.3},{"p":3,"a":"K","t":"IR","x":2061.9,"y":516.3},{"p":3,"a":"K","t":"IR","x":2057.7,"y":521.3},{"p":3,"a":"K","t":"IR","x":2043.3,"y":523},{"p":3,"a":"K","t":"IR","x":2017.6,"y":522.3},{"p":3,"a":"K","t":"IR","x":2011.2,"y":519.7},{"p":3,"a":"K","t":"IR","x":2006.4,"y":514.7},{"p":3,"a":"K","t":"IR","x":2004.8,"y":509.7},{"p":3,"a":"K","t":"IR","x":2002.2,"y":508},{"p":3,"a":"K","t":"IR","x":2000,"y":510.3},{"p":3,"a":"K","t":"IR","x":1996.8,"y":509.7},{"p":3,"a":"K","t":"IR","x":1993.6,"y":503},{"p":3,"a":"K","t":"IR","x":1988.8,"y":483},{"p":3,"a":"K","t":"IR","x":1984,"y":459.7},{"p":3,"a":"K","t":"IR","x":1980.8,"y":444.7},{"p":3,"a":"K","t":"IR","x":1978.5,"y":440.7},{"p":3,"a":"K","t":"IR","x":1976,"y":444.7},{"p":3,"a":"K","t":"IR","x":1972.8,"y":459.7},{"p":3,"a":"K","t":"IR","x":1969.6,"y":479.7},{"p":3,"a":"K","t":"IR","x":1966.3,"y":498},{"p":3,"a":"K","t":"IR","x":1961.5,"y":506.3},{"p":3,"a":"K","t":"IR","x":1956.7,"y":511.3},{"p":3,"a":"K","t":"IR","x":1950.3,"y":513.7},{"p":3,"a":"K","t":"IR","x":1943.9,"y":515.7},{"p":3,"a":"K","t":"IR","x":1934.3,"y":519.7},{"p":3,"a":"K","t":"IR","x":1926,"y":521},
{"p":3,"a":"R","t":"IR","x":2175,"y":440.3},{"p":3,"a":"R","t":"IR","x":2097.8,"y":439.7},{"p":3,"a":"R","t":"IR","x":2092,"y":437},{"p":3,"a":"R","t":"IR","x":2088.8,"y":426.3},{"p":3,"a":"R","t":"IR","x":2085.6,"y":403},{"p":3,"a":"R","t":"IR","x":2083.3,"y":388},{"p":3,"a":"R","t":"IR","x":2081.7,"y":384.7},{"p":3,"a":"R","t":"IR","x":2079.8,"y":389.7},{"p":3,"a":"R","t":"IR","x":2077.6,"y":406.3},{"p":3,"a":"R","t":"IR","x":2074.7,"y":426.3},{"p":3,"a":"R","t":"IR","x":2070.5,"y":436.3},{"p":3,"a":"R","t":"IR","x":2062.5,"y":438.7},{"p":3,"a":"R","t":"IR","x":2040.1,"y":438},{"p":3,"a":"R","t":"IR","x":2033.7,"y":434.7},{"p":3,"a":"R","t":"IR","x":2029.8,"y":426.3},{"p":3,"a":"R","t":"IR","x":2025.6,"y":406.3},{"p":3,"a":"R","t":"IR","x":2020.8,"y":386.3},{"p":3,"a":"R","t":"IR","x":2016,"y":374.7},{"p":3,"a":"R","t":"IR","x":2012.8,"y":379.7},{"p":3,"a":"R","t":"IR","x":2008.7,"y":396.3},{"p":3,"a":"R","t":"IR","x":2004.8,"y":411.3},{"p":3,"a":"R","t":"IR","x":2000,"y":416.3},{"p":3,"a":"R","t":"IR","x":1995.8,"y":413},{"p":3,"a":"R","t":"IR","x":1992,"y":399.7},{"p":3,"a":"R","t":"IR","x":1988.1,"y":379.7},{"p":3,"a":"R","t":"IR","x":1984,"y":363},{"p":3,"a":"R","t":"IR","x":1979.8,"y":358},{"p":3,"a":"R","t":"IR","x":1976.6,"y":364.7},{"p":3,"a":"R","t":"IR","x":1972.8,"y":386.3},{"p":3,"a":"R","t":"IR","x":1967.9,"y":406.3},{"p":3,"a":"R","t":"IR","x":1963.8,"y":419.7},{"p":3,"a":"R","t":"IR","x":1958.3,"y":426.3},{"p":3,"a":"R","t":"IR","x":1950.3,"y":431.3},{"p":3,"a":"R","t":"IR","x":1940.7,"y":434.7},{"p":3,"a":"R","t":"IR","x":1926,"y":438},
{"p":3,"a":"B","t":"IR","x":2175,"y":356.3},{"p":3,"a":"B","t":"IR","x":2113.8,"y":355.7},{"p":3,"a":"B","t":"IR","x":2102.6,"y":354.7},{"p":3,"a":"B","t":"IR","x":2099.4,"y":349.7},{"p":3,"a":"B","t":"IR","x":2096.2,"y":333},{"p":3,"a":"B","t":"IR","x":2092.9,"y":313},{"p":3,"a":"B","t":"IR","x":2089.7,"y":303},{"p":3,"a":"B","t":"IR","x":2087.2,"y":309.7},{"p":3,"a":"B","t":"IR","x":2084.3,"y":329.7},{"p":3,"a":"B","t":"IR","x":2081.1,"y":346.3},{"p":3,"a":"B","t":"IR","x":2075.3,"y":353},{"p":3,"a":"B","t":"IR","x":2062.5,"y":355},{"p":3,"a":"B","t":"IR","x":2043.3,"y":354.7},{"p":3,"a":"B","t":"IR","x":2036.9,"y":351.3},{"p":3,"a":"B","t":"IR","x":2032.1,"y":343},{"p":3,"a":"B","t":"IR","x":2027.9,"y":333},{"p":3,"a":"B","t":"IR","x":2024,"y":316.3},{"p":3,"a":"B","t":"IR","x":2019.2,"y":296.3},{"p":3,"a":"B","t":"IR","x":2014.4,"y":283},{"p":3,"a":"B","t":"IR","x":2009.6,"y":275.3},{"p":3,"a":"B","t":"IR","x":2006.4,"y":274.7},{"p":3,"a":"B","t":"IR","x":2003.2,"y":278},{"p":3,"a":"B","t":"IR","x":1999,"y":289.7},{"p":3,"a":"B","t":"IR","x":1995.2,"y":309.7},{"p":3,"a":"B","t":"IR","x":1991.3,"y":326.3},{"p":3,"a":"B","t":"IR","x":1987.2,"y":336.3},{"p":3,"a":"B","t":"IR","x":1980.8,"y":343},{"p":3,"a":"B","t":"IR","x":1972.8,"y":349.7},{"p":3,"a":"B","t":"IR","x":1959.9,"y":354.3},{"p":3,"a":"B","t":"IR","x":1943.9,"y":355},{"p":3,"a":"B","t":"IR","x":1926,"y":355.7},
{"p":3,"a":"B","t":"Ra","x":2175,"y":179.7},{"p":3,"a":"B","t":"Ra","x":2169.9,"y":178},{"p":3,"a":"B","t":"Ra","x":2165.1,"y":177.3},{"p":3,"a":"B","t":"Ra","x":2160.3,"y":179.7},{"p":3,"a":"B","t":"Ra","x":2156.1,"y":178.3},{"p":3,"a":"B","t":"Ra","x":2152.2,"y":179.7},{"p":3,"a":"B","t":"Ra","x":2145.8,"y":182},{"p":3,"a":"B","t":"Ra","x":2129.8,"y":183},{"p":3,"a":"B","t":"Ra","x":2113.8,"y":184},{"p":3,"a":"B","t":"Ra","x":2103.5,"y":183.7},{"p":3,"a":"B","t":"Ra","x":2099.4,"y":189.7},{"p":3,"a":"B","t":"Ra","x":2095.2,"y":206.3},{"p":3,"a":"B","t":"Ra","x":2092,"y":215.7},{"p":3,"a":"B","t":"Ra","x":2089.7,"y":213},{"p":3,"a":"B","t":"Ra","x":2086.5,"y":199.7},{"p":3,"a":"B","t":"Ra","x":2082.4,"y":188},{"p":3,"a":"B","t":"Ra","x":2076.9,"y":183.7},{"p":3,"a":"B","t":"Ra","x":2068.9,"y":180.3},{"p":3,"a":"B","t":"Ra","x":2062.5,"y":183},{"p":3,"a":"B","t":"Ra","x":2056.1,"y":180.3},{"p":3,"a":"B","t":"Ra","x":2049.7,"y":184.7},{"p":3,"a":"B","t":"Ra","x":2044.9,"y":199.7},{"p":3,"a":"B","t":"Ra","x":2040.7,"y":226.3},{"p":3,"a":"B","t":"Ra","x":2036.9,"y":253},{"p":3,"a":"B","t":"Ra","x":2034.3,"y":260.7},{"p":3,"a":"B","t":"Ra","x":2031.7,"y":254.7},{"p":3,"a":"B","t":"Ra","x":2027.9,"y":239.7},{"p":3,"a":"B","t":"Ra","x":2024,"y":233.7},{"p":3,"a":"B","t":"Ra","x":2020.2,"y":234.7},{"p":3,"a":"B","t":"Ra","x":2017,"y":231.3},{"p":3,"a":"B","t":"Ra","x":2012.8,"y":218},{"p":3,"a":"B","t":"Ra","x":2008,"y":201.3},{"p":3,"a":"B","t":"Ra","x":2002.2,"y":188},{"p":3,"a":"B","t":"Ra","x":1995.2,"y":183},{"p":3,"a":"B","t":"Ra","x":1985.6,"y":181.3},{"p":3,"a":"B","t":"Ra","x":1972.8,"y":178.7},{"p":3,"a":"B","t":"Ra","x":1953.5,"y":178},{"p":3,"a":"B","t":"Ra","x":1926,"y":179},
{"p":3,"a":"R","t":"Ra","x":2175,"y":94.7},{"p":3,"a":"R","t":"Ra","x":2101,"y":95.3},{"p":3,"a":"R","t":"Ra","x":2091.3,"y":98},{"p":3,"a":"R","t":"Ra","x":2087.2,"y":109.7},{"p":3,"a":"R","t":"Ra","x":2084.3,"y":124.7},{"p":3,"a":"R","t":"Ra","x":2082.4,"y":129.7},{"p":3,"a":"R","t":"Ra","x":2080.1,"y":124.7},{"p":3,"a":"R","t":"Ra","x":2076.9,"y":108},{"p":3,"a":"R","t":"Ra","x":2072.1,"y":97.3},{"p":3,"a":"R","t":"Ra","x":2062.5,"y":95.3},{"p":3,"a":"R","t":"Ra","x":2043.3,"y":96.3},{"p":3,"a":"R","t":"Ra","x":2036.9,"y":103},{"p":3,"a":"R","t":"Ra","x":2032.1,"y":116.3},{"p":3,"a":"R","t":"Ra","x":2027.9,"y":119.7},{"p":3,"a":"R","t":"Ra","x":2024,"y":133},{"p":3,"a":"R","t":"Ra","x":2020.2,"y":159.7},{"p":3,"a":"R","t":"Ra","x":2017.6,"y":174.7},{"p":3,"a":"R","t":"Ra","x":2015.4,"y":176.3},{"p":3,"a":"R","t":"Ra","x":2013.1,"y":163},{"p":3,"a":"R","t":"Ra","x":2010.6,"y":133},{"p":3,"a":"R","t":"Ra","x":2007.4,"y":109.7},{"p":3,"a":"R","t":"Ra","x":2003.2,"y":101.3},{"p":3,"a":"R","t":"Ra","x":1998.4,"y":99.7},{"p":3,"a":"R","t":"Ra","x":1993.6,"y":103},{"p":3,"a":"R","t":"Ra","x":1988.8,"y":116.3},{"p":3,"a":"R","t":"Ra","x":1984.9,"y":128},{"p":3,"a":"R","t":"Ra","x":1982.4,"y":132},{"p":3,"a":"R","t":"Ra","x":1979.8,"y":126.3},{"p":3,"a":"R","t":"Ra","x":1976.6,"y":109.7},{"p":3,"a":"R","t":"Ra","x":1972.1,"y":98},{"p":3,"a":"R","t":"Ra","x":1963.1,"y":95.3},{"p":3,"a":"R","t":"Ra","x":1926,"y":94.7},
{"p":3,"a":"K","t":"Ra","x":2175,"y":16.3},{"p":3,"a":"K","t":"Ra","x":2169.9,"y":18},{"p":3,"a":"K","t":"Ra","x":2165.1,"y":11.3},{"p":3,"a":"K","t":"Ra","x":2160.3,"y":16.3},{"p":3,"a":"K","t":"Ra","x":2155.4,"y":13},{"p":3,"a":"K","t":"Ra","x":2149,"y":18},{"p":3,"a":"K","t":"Ra","x":2139.4,"y":17},{"p":3,"a":"K","t":"Ra","x":2129.8,"y":19.7},{"p":3,"a":"K","t":"Ra","x":2113.8,"y":19},{"p":3,"a":"K","t":"Ra","x":2104.2,"y":15.7},{"p":3,"a":"K","t":"Ra","x":2094.6,"y":16.3},{"p":3,"a":"K","t":"Ra","x":2088.1,"y":14.7},{"p":3,"a":"K","t":"Ra","x":2081.7,"y":23},{"p":3,"a":"K","t":"Ra","x":2075.3,"y":34.7},{"p":3,"a":"K","t":"Ra","x":2070.5,"y":41.3},{"p":3,"a":"K","t":"Ra","x":2066.3,"y":36.3},{"p":3,"a":"K","t":"Ra","x":2062.5,"y":26.3},{"p":3,"a":"K","t":"Ra","x":2057.7,"y":16.3},{"p":3,"a":"K","t":"Ra","x":2054.5,"y":11.3},{"p":3,"a":"K","t":"Ra","x":2049.7,"y":14.7},{"p":3,"a":"K","t":"Ra","x":2040.1,"y":16.3},{"p":3,"a":"K","t":"Ra","x":2027.2,"y":16.3},{"p":3,"a":"K","t":"Ra","x":2019.2,"y":16.3},{"p":3,"a":"K","t":"Ra","x":2014.4,"y":26.3},{"p":3,"a":"K","t":"Ra","x":2011.2,"y":53},{"p":3,"a":"K","t":"Ra","x":2008,"y":79.7},{"p":3,"a":"K","t":"Ra","x":2004.8,"y":91.3},{"p":3,"a":"K","t":"Ra","x":2002.2,"y":93},{"p":3,"a":"K","t":"Ra","x":2000,"y":83},{"p":3,"a":"K","t":"Ra","x":1996.8,"y":56.3},{"p":3,"a":"K","t":"Ra","x":1993.6,"y":41.3},{"p":3,"a":"K","t":"Ra","x":1990.4,"y":46.3},{"p":3,"a":"K","t":"Ra","x":1986.5,"y":63},{"p":3,"a":"K","t":"Ra","x":1984,"y":73},{"p":3,"a":"K","t":"Ra","x":1981.7,"y":76.3},{"p":3,"a":"K","t":"Ra","x":1979.2,"y":71.3},{"p":3,"a":"K","t":"Ra","x":1976,"y":46.3},{"p":3,"a":"K","t":"Ra","x":1972.8,"y":24.7},{"p":3,"a":"K","t":"Ra","x":1967.9,"y":16.3},{"p":3,"a":"K","t":"Ra","x":1953.5,"y":14.7},{"p":3,"a":"K","t":"Ra","x":1940.7,"y":13.7},{"p":3,"a":"K","t":"Ra","x":1926,"y":12.3}
]
},
"hconcat":[
{"width":260,"height":587,
 "encoding":{
  "x":{"field":"x","type":"quantitative","scale":{"domain":[1925,2175],"reverse":true,"nice":false,"zero":false},
   "axis":{"values":[2150,2125,2100,2075,2050,2025,2000,1975,1950],"format":"d","labelExpr":"datum.value % 50 === 0 ? datum.label : ''","offset":-41,"title":null,"grid":false,"domainColor":"#333","domainWidth":1.5,"tickColor":"#333","tickWidth":1.5,"tickSize":{"condition":{"test":"datum.value % 50 === 0","value":8},"value":5},"labelFont":"Open Sans","labelFontSize":17.5,"labelColor":"#000","labelPadding":10,"labelFlush":false,"labelOverlap":false,"labelBound":false}},
  "y":{"field":"y","type":"quantitative","scale":{"domain":[-41,546],"nice":false,"zero":false},"axis":null}},
 "layer":[
  {"data":{"name":"sp"},"transform":[{"filter":"datum.p==1"}],"mark":{"type":"line","strokeWidth":1.6,"interpolate":"monotone","clip":true},
   "encoding":{"color":{"field":"a","type":"nominal","scale":{"domain":["K","R","B"],"range":["#000000","#f01818","#1818f0"]},
     "legend":{"orient":"none","legendX":547,"legendY":477,"title":"arene:","titleFontSize":18,"titleFont":"Open Sans","titleFontWeight":"normal","titleColor":"#000","titleAnchor":"middle","titlePadding":4,"labelFontSize":18,"labelFont":"Open Sans","labelColor":"#000","labelExpr":"datum.label=='K'?'C₆H₃Me₃':datum.label=='R'?'C₆H₆':'F₂C₆H₄'","symbolType":"stroke","symbolStrokeWidth":2,"symbolSize":196,"fillColor":"#d9d9d9","padding":8,"rowPadding":10,"labelOffset":8}},
    "detail":{"field":"t"}}},
  {"data":{"name":"an"},"transform":[{"filter":"datum.p==1 && datum.k=='L'"}],"mark":{"type":"text","align":"left","baseline":"alphabetic","fontSize":22,"font":"Open Sans","color":"#000"},"encoding":{"text":{"field":"txt"}}},
  {"data":{"name":"an"},"transform":[{"filter":"datum.p==1 && datum.k=='T'"}],"mark":{"type":"text","align":"right","baseline":"alphabetic","fontSize":23,"font":"Open Sans","color":"#000"},"encoding":{"text":{"field":"txt"}}},
  {"data":{"name":"an"},"transform":[{"filter":"datum.p==1 && datum.k=='Q'"}],"mark":{"type":"text","align":"left","baseline":"alphabetic","fontSize":23,"font":"Open Sans","color":"#000"},"encoding":{"text":{"field":"txt"}}},
  {"data":{"name":"an"},"transform":[{"filter":"datum.p==1 && (datum.k=='S' || datum.k=='U')"}],"mark":{"type":"text","align":"left","baseline":"alphabetic","fontSize":15,"font":"Open Sans","color":"#000"},"encoding":{"text":{"field":"txt"}}},
  {"data":{"name":"an"},"transform":[{"filter":"datum.p==1 && datum.k=='A'"}],"mark":{"type":"text","align":"left","baseline":"alphabetic","fontSize":26,"font":"Open Sans","color":"#000"},"encoding":{"text":{"field":"txt"}}},
  {"data":{"name":"an"},"transform":[{"filter":"datum.p==1 && datum.k=='W'"}],"mark":{"type":"text","align":"center","baseline":"alphabetic","fontSize":19,"font":"Open Sans","color":"#000"},"encoding":{"text":{"field":"txt"}}}
 ]},
{"width":260,"height":587,
 "encoding":{
  "x":{"field":"x","type":"quantitative","scale":{"domain":[1925,2175],"reverse":true,"nice":false,"zero":false},
   "axis":{"values":[2150,2125,2100,2075,2050,2025,2000,1975,1950],"format":"d","labelExpr":"datum.value % 50 === 0 ? datum.label : ''","offset":-41,"title":null,"grid":false,"domainColor":"#333","domainWidth":1.5,"tickColor":"#333","tickWidth":1.5,"tickSize":{"condition":{"test":"datum.value % 50 === 0","value":8},"value":5},"labelFont":"Open Sans","labelFontSize":17.5,"labelColor":"#000","labelPadding":10,"labelFlush":false,"labelOverlap":false,"labelBound":false}},
  "y":{"field":"y","type":"quantitative","scale":{"domain":[-41,546],"nice":false,"zero":false},"axis":null}},
 "layer":[
  {"data":{"name":"sp"},"transform":[{"filter":"datum.p==2"}],"mark":{"type":"line","strokeWidth":1.6,"interpolate":"monotone","clip":true},
   "encoding":{"color":{"field":"a","type":"nominal","scale":{"domain":["K","R","B"],"range":["#000000","#f01818","#1818f0"]}},"detail":{"field":"t"}}},
  {"data":{"name":"an"},"transform":[{"filter":"datum.p==2 && datum.k=='R'"}],"mark":{"type":"text","align":"right","baseline":"alphabetic","fontSize":22,"font":"Open Sans","color":"#000"},"encoding":{"text":{"field":"txt"}}},
  {"data":{"name":"an"},"transform":[{"filter":"datum.p==2 && datum.k=='N'"}],"mark":{"type":"text","align":"left","baseline":"alphabetic","fontSize":23,"font":"Open Sans","color":"#000"},"encoding":{"text":{"field":"txt"}}}
 ]},
{"width":76,"height":587,"view":{"stroke":null},
 "data":{"name":"md"},
 "encoding":{
  "x":{"field":"x","type":"quantitative","scale":{"domain":[0,76],"nice":false,"zero":false},"axis":null},
  "y":{"field":"y","type":"quantitative","scale":{"domain":[-41,546],"nice":false,"zero":false},"axis":null}},
 "layer":[
  {"transform":[{"filter":"datum.k=='ar'"}],"mark":{"type":"rule","strokeWidth":1.3,"color":"#000"},"encoding":{"y2":{"field":"y2"}}},
  {"transform":[{"filter":"datum.k=='hu'"}],"mark":{"type":"point","shape":"M0,-1L0.6,1L-0.6,1Z","size":144,"filled":true,"color":"#000","opacity":1},"encoding":{}},
  {"transform":[{"filter":"datum.k=='hd'"}],"mark":{"type":"point","shape":"M0,1L0.6,-1L-0.6,-1Z","size":144,"filled":true,"color":"#000","opacity":1},"encoding":{}},
  {"transform":[{"filter":"datum.k=='tr'"}],"mark":{"type":"text","angle":270,"fontSize":20,"font":"Open Sans","align":"center","baseline":"middle","color":"#000"},"encoding":{"text":{"field":"txt"}}},
  {"transform":[{"filter":"datum.k=='ti'"}],"mark":{"type":"text","angle":90,"fontSize":20,"font":"Open Sans","align":"center","baseline":"middle","color":"#000"},"encoding":{"text":{"field":"txt"}}}
 ]},
{"width":260,"height":587,
 "encoding":{
  "x":{"field":"x","type":"quantitative","scale":{"domain":[1925,2175],"reverse":true,"nice":false,"zero":false},
   "axis":{"values":[2150,2125,2100,2075,2050,2025,2000,1975,1950],"format":"d","labelExpr":"datum.value % 50 === 0 ? datum.label : ''","offset":-41,"title":null,"grid":false,"domainColor":"#333","domainWidth":1.5,"tickColor":"#333","tickWidth":1.5,"tickSize":{"condition":{"test":"datum.value % 50 === 0","value":8},"value":5},"labelFont":"Open Sans","labelFontSize":17.5,"labelColor":"#000","labelPadding":10,"labelFlush":false,"labelOverlap":false,"labelBound":false}},
  "y":{"field":"y","type":"quantitative","scale":{"domain":[-41,546],"nice":false,"zero":false},"axis":null}},
 "layer":[
  {"data":{"name":"sp"},"transform":[{"filter":"datum.p==3"}],"mark":{"type":"line","strokeWidth":1.6,"interpolate":"monotone","clip":true},
   "encoding":{"color":{"field":"a","type":"nominal","scale":{"domain":["K","R","B"],"range":["#000000","#f01818","#1818f0"]}},"detail":{"field":"t"}}},
  {"data":{"name":"an"},"transform":[{"filter":"datum.p==3 && datum.k=='L'"}],"mark":{"type":"text","align":"left","baseline":"alphabetic","fontSize":22,"font":"Open Sans","color":"#000"},"encoding":{"text":{"field":"txt"}}},
  {"data":{"name":"an"},"transform":[{"filter":"datum.p==3 && datum.k=='A'"}],"mark":{"type":"text","align":"left","baseline":"alphabetic","fontSize":26,"font":"Open Sans","color":"#000"},"encoding":{"text":{"field":"txt"}}},
  {"data":{"name":"an"},"transform":[{"filter":"datum.p==3 && datum.k=='W'"}],"mark":{"type":"text","align":"center","baseline":"alphabetic","fontSize":19,"font":"Open Sans","color":"#000"},"encoding":{"text":{"field":"txt"}}},
  {"data":{"name":"an"},"transform":[{"filter":"datum.p==3 && datum.k=='N'"}],"mark":{"type":"text","align":"left","baseline":"alphabetic","fontSize":23,"font":"Open Sans","color":"#000"},"encoding":{"text":{"field":"txt"}}}
 ]},
{"width":260,"height":587,
 "encoding":{
  "x":{"field":"x","type":"quantitative","scale":{"domain":[1925,2175],"reverse":true,"nice":false,"zero":false},
   "axis":{"values":[2150,2125,2100,2075,2050,2025,2000,1975,1950],"format":"d","labelExpr":"datum.value % 50 === 0 ? datum.label : ''","offset":-41,"title":null,"grid":false,"domainColor":"#333","domainWidth":1.5,"tickColor":"#333","tickWidth":1.5,"tickSize":{"condition":{"test":"datum.value % 50 === 0","value":8},"value":5},"labelFont":"Open Sans","labelFontSize":17.5,"labelColor":"#000","labelPadding":10,"labelFlush":false,"labelOverlap":false,"labelBound":false}},
  "y":{"field":"y","type":"quantitative","scale":{"domain":[-41,546],"nice":false,"zero":false},"axis":null}},
 "layer":[
  {"data":{"name":"sp"},"transform":[{"filter":"datum.p==4"}],"mark":{"type":"line","strokeWidth":1.6,"interpolate":"monotone","clip":true},
   "encoding":{"color":{"field":"a","type":"nominal","scale":{"domain":["K","R","B"],"range":["#000000","#f01818","#1818f0"]}},"detail":{"field":"t"}}},
  {"data":{"name":"an"},"transform":[{"filter":"datum.p==4 && datum.k=='T'"}],"mark":{"type":"text","align":"right","baseline":"alphabetic","fontSize":23,"font":"Open Sans","color":"#000"},"encoding":{"text":{"field":"txt"}}},
  {"data":{"name":"an"},"transform":[{"filter":"datum.p==4 && datum.k=='Q'"}],"mark":{"type":"text","align":"left","baseline":"alphabetic","fontSize":23,"font":"Open Sans","color":"#000"},"encoding":{"text":{"field":"txt"}}},
  {"data":{"name":"an"},"transform":[{"filter":"datum.p==4 && (datum.k=='S' || datum.k=='U')"}],"mark":{"type":"text","align":"left","baseline":"alphabetic","fontSize":15,"font":"Open Sans","color":"#000"},"encoding":{"text":{"field":"txt"}}},
  {"data":{"name":"an"},"transform":[{"filter":"datum.p==4 && datum.k=='R'"}],"mark":{"type":"text","align":"right","baseline":"alphabetic","fontSize":22,"font":"Open Sans","color":"#000"},"encoding":{"text":{"field":"txt"}}}
 ]}
]
}
